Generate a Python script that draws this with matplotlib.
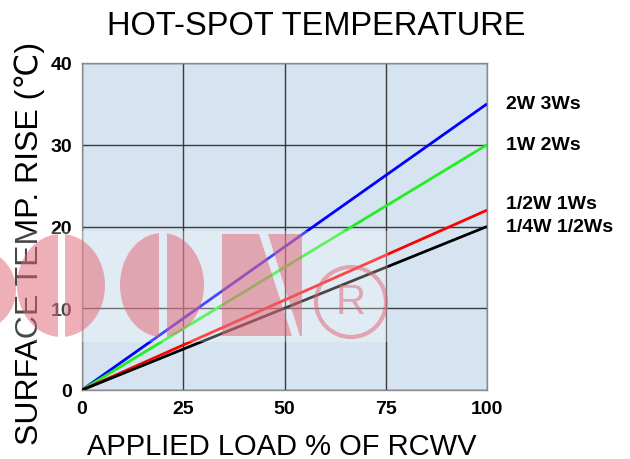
import numpy as np
import matplotlib
matplotlib.use("Agg")
import matplotlib.pyplot as plt
from matplotlib.patches import Ellipse, Rectangle, Polygon

plt.rcParams['font.family'] = ['Liberation Sans', 'DejaVu Sans']

# data: temperature rise vs applied load
load = [0, 100]
rise_3ws = [0, 35]
rise_2ws = [0, 30]
rise_1ws = [0, 22]
rise_half = [0, 20]
series_labels = ["2W 3Ws", "1W 2Ws", "1/2W 1Ws", "1/4W 1/2Ws"]
x_ticks = [0, 25, 50, 75, 100]
y_ticks = [0, 10, 20, 30, 40]

W, H = 630, 460
fig = plt.figure(figsize=(6.3, 4.6), dpi=100)
ax = fig.add_axes([82 / W, 1 - 391 / H, 405 / W, 327 / H])
ax.set_facecolor("#d6e4f1")

colours = ["#0000ff", "#22ee22", "#ff0000", "#000000"]
for ys, c in zip([rise_3ws, rise_2ws, rise_1ws, rise_half], colours):
    ax.plot(load, ys, color=c, lw=2.0, solid_capstyle="butt", zorder=3)

ax.set_xlim(0, 100)
ax.set_ylim(0, 40)
ax.set_xticks(x_ticks)
ax.set_yticks(y_ticks)
ax.tick_params(length=0, labelsize=14, pad=7)
for t in ax.get_xticklabels() + ax.get_yticklabels():
    t.set_fontweight("bold")
ax.grid(color="#3a3a3a", lw=1.0, zorder=1)
ax.set_axisbelow(True)
for s in ax.spines.values():
    s.set_color("#8a8a8a")
    s.set_linewidth(1.0)

# series names at the right end
label_y = [35, 30, 22.8, 20]
for name, yy in zip(series_labels, label_y):
    ax.text(104.7, yy, name, fontsize=14, fontweight="bold", va="center",
            ha="left", clip_on=False)

fig.text(316 / W, 1 - 35 / H, "HOT-SPOT TEMPERATURE", fontsize=23.5,
         ha="center", va="baseline")
fig.text(282 / W, 1 - 455 / H, "APPLIED LOAD % OF RCWV", fontsize=21,
         ha="center", va="baseline")
fig.text(30 / W, 1 - 243 / H, "SURFACE TEMP. RISE (℃)", fontsize=23,
         ha="center", va="center", rotation=90)

# watermark (pixel coordinates -> figure fraction)
def fx(x):
    return x / W

def fy(y):
    return 1 - y / H

tf = fig.transFigure
band = Rectangle((fx(0), fy(343)), fx(388), (343 - 232) / H, transform=tf,
                 facecolor="white", alpha=0.28, edgecolor="none", zorder=10)
fig.patches.append(band)

pink = "#e06070"
alpha = 0.5

def split_o(left, right, top, bottom, gap_l, gap_r):
    cx, cy = (left + right) / 2, (top + bottom) / 2
    for x0, x1 in [(left - 2, gap_l), (gap_r, right + 2)]:
        e = Ellipse((fx(cx), fy(cy)), (right - left) / W, (bottom - top) / H,
                    transform=tf, facecolor=pink, alpha=alpha,
                    edgecolor="none", zorder=11)
        clip = Rectangle((fx(x0), fy(bottom + 2)), (x1 - x0) / W,
                         (bottom - top + 4) / H, transform=tf)
        fig.patches.append(e)
        e.set_clip_path(clip)

# partial letter at the left edge
e0 = Ellipse((fx(-22), fy(291)), 76 / W, 80 / H, transform=tf,
             facecolor=pink, alpha=alpha, edgecolor="none", zorder=11)
fig.patches.append(e0)
split_o(17, 105, 235, 338, 58, 65)
split_o(120, 204, 234, 338, 159, 167)

# N
n_left = [(222, 235), (259, 235), (292, 337), (222, 337)]
n_right = [(268, 235), (302, 235), (302, 337), (300, 337)]
for pts in [n_left, n_right]:
    fig.patches.append(Polygon([(fx(x), fy(y)) for x, y in pts], closed=True,
                               transform=tf, facecolor=pink, alpha=alpha,
                               edgecolor="none", zorder=11))

# registered mark
fig.patches.append(Ellipse((fx(351), fy(303)), 70 / W, 70 / H, transform=tf,
                           facecolor="none", edgecolor=pink, alpha=alpha,
                           lw=3.0, zorder=11))
fig.text(fx(351), fy(303), "R", fontsize=30, color=pink, alpha=alpha,
         ha="center", va="center", zorder=11)

fig.savefig("out.png", dpi=100)
